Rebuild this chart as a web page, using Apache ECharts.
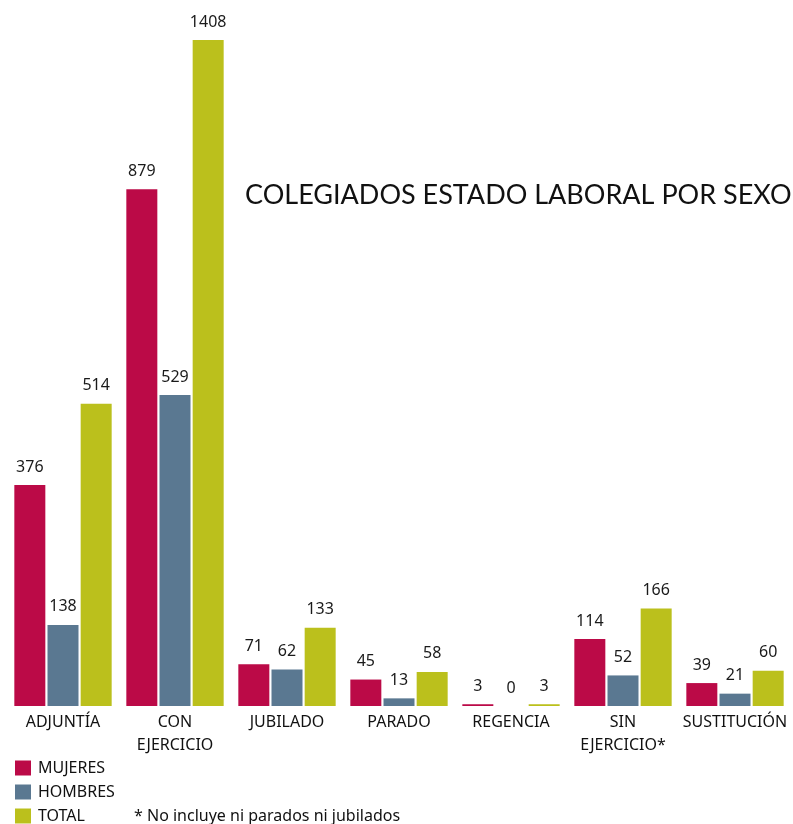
<!DOCTYPE html>
<html>
<head>
<meta charset="utf-8">
<script src="https://cdn.jsdelivr.net/npm/echarts@6/dist/echarts.min.js"></script>
<style>
  html, body { margin: 0; padding: 0; background: #fff; }
  #chart { width: 793px; height: 824px; }
</style>
</head>
<body>
<div id="chart"></div>
<script>
// datos
var categorias = ['ADJUNTÍA', 'CON\nEJERCICIO', 'JUBILADO', 'PARADO', 'REGENCIA', 'SIN\nEJERCICIO*', 'SUSTITUCIÓN'];
var mujeres = [376, 879, 71, 45, 3, 114, 39];
var hombres = [138, 529, 62, 13, 0, 52, 21];
var total = [514, 1408, 133, 58, 3, 166, 60];
var nota = '* No incluye ni parados ni jubilados';

var fuente = '"Noto Sans", sans-serif';

function serie(nombre, datos, color) {
  return {
    name: nombre,
    type: 'bar',
    data: datos,
    barWidth: 31,
    barGap: '7%',
    clip: true,
    itemStyle: { color: color },
    label: {
      show: true,
      position: 'top',
      distance: 10,
      color: '#1a1a1a',
      fontSize: 16,
      fontFamily: fuente
    }
  };
}

var chart = echarts.init(document.getElementById('chart'));
chart.setOption({
  animation: false,
  title: [{
    text: 'COLEGIADOS ESTADO LABORAL POR SEXO',
    left: 240,
    top: 177,
    textStyle: { fontFamily: 'Lato, sans-serif', fontWeight: 'normal', fontSize: 27, color: '#111' }
  }, {
    text: nota,
    left: 134,
    bottom: -2,
    padding: 0,
    textStyle: { fontFamily: fuente, fontWeight: 'normal', fontSize: 16, lineHeight: 20, color: '#111' }
  }],
  legend: {
    orient: 'vertical',
    left: 15,
    top: 760,
    padding: 0,
    height: 70,
    icon: 'rect',
    itemWidth: 16,
    itemHeight: 15,
    itemGap: 8,
    textStyle: { fontFamily: fuente, fontSize: 16, color: '#111', padding: [0, 0, 0, 2] },
    data: ['MUJERES', 'HOMBRES', 'TOTAL']
  },
  grid: { left: 7, right: 2, top: 40, bottom: 118 },
  xAxis: {
    type: 'category',
    data: categorias,
    axisLine: { show: false },
    axisTick: { show: false },
    axisLabel: { margin: 5, fontFamily: fuente, fontSize: 16, lineHeight: 23, color: '#111', interval: 0 }
  },
  yAxis: {
    type: 'value',
    min: 0,
    max: 1133,
    show: false,
    splitLine: { show: false }
  },
  series: [
    serie('MUJERES', mujeres, '#BB0A47'),
    serie('HOMBRES', hombres, '#5A7891'),
    serie('TOTAL', total, '#BBC01C')
  ]
});
</script>
</body>
</html>
